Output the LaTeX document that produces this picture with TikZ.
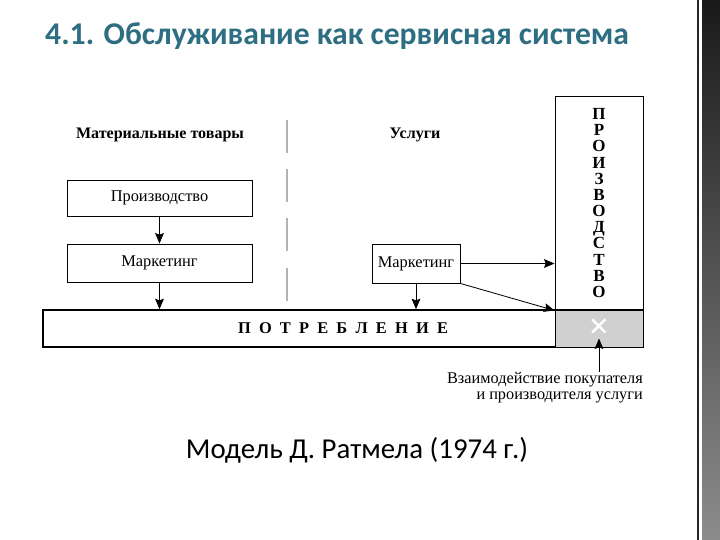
\documentclass[tikz,border=0pt]{standalone}
\usepackage{fontspec}
\setmainfont{Liberation Serif}
\newfontfamily\slidefont{Carlito}
\usepackage{xcolor}
\usetikzlibrary{arrows.meta,positioning}
\definecolor{titleteal}{RGB}{45,110,130}
\definecolor{cellgray}{RGB}{208,208,208}
\begin{document}
\begin{tikzpicture}[x=0.03cm,y=-0.03cm,>={Stealth[length=9pt,width=7.5pt,inset=1.5pt]},
  fontsize/.style={font=\fontsize{#1}{#1}\selectfont},
  box/.style={draw,line width=0.8pt,fontsize=14,inner sep=0pt},
  head/.style={font=\bfseries\fontsize{13.7}{15}\selectfont},
  divider/.style={gray!60,line width=2.5pt},
  arr/.style={->,line width=0.7pt}]
\useasboundingbox (0,0) rectangle (720,540);
% right decoration strip
\fill[black!85](697,0) rectangle (698.5,540);
\shade[top color=black!90,bottom color=black!45](702,0) rectangle (720,540);
% titles
\node[anchor=base west,inner sep=0pt,text=titleteal,font=\slidefont\bfseries\fontsize{27}{29}\selectfont](title) at (45,45){4.1. Обслуживание как сервисная система};
\node[font=\slidefont\fontsize{24.6}{26}\selectfont](caption) at (357,450){Модель Д. Ратмела (1974 г.)};
% headers
\node[head](goods) at (160,135){Материальные товары};
\node[head](serv) at (415,135){Услуги};
\foreach \y in {120,169,218,268}
  \draw[divider](287,\y)--++(0,33);
% boxes
\node[box,minimum width=5.55cm,minimum height=1.08cm](prod) at (159.5,198){Производство};
\node[box,minimum width=5.55cm,minimum height=1.14cm](markA) at (159.5,263){Маркетинг};
\node[box,minimum width=2.64cm,minimum height=1.17cm](markB) at (416,263.5){Маркетинг};
\node[box,line width=1.3pt,minimum width=18cm,minimum height=1.11cm](cons) at (343,328.5){\bfseries\spaceskip=0.5em П О Т Р Е Б Л Е Н И Е};
\node[box,fill=cellgray,minimum width=2.64cm,minimum height=1.11cm](cell) at (599,328.5){};
\node[text=white,font=\fontsize{31}{31}\selectfont\bfseries](cross) at (cell){×};
\node[box,minimum width=2.64cm,minimum height=6.42cm,align=center,font=\bfseries\fontsize{14.5}{13.8}\selectfont](prodcol) at (599,203){П\\Р\\О\\И\\З\\В\\О\\Д\\С\\Т\\В\\О};
\node[anchor=north east,align=right,inner sep=0pt,font=\fontsize{13.9}{13.6}\selectfont](note) at (643,372){Взаимодействие покупателя\\и производителя услуги};
% arrows
\draw[arr](prod)--(markA);
\draw[arr](markA)--(markA|-cons.north);
\draw[arr](markB)--(markB|-cons.north);
\draw[arr](markB.east)--(markB.east-|prodcol.west);
\draw[arr](markB.south east)--(prodcol.south west);
\draw[arr](note.north-|cell)--([yshift=-0.3cm]cell.center);
\end{tikzpicture}
\end{document}
